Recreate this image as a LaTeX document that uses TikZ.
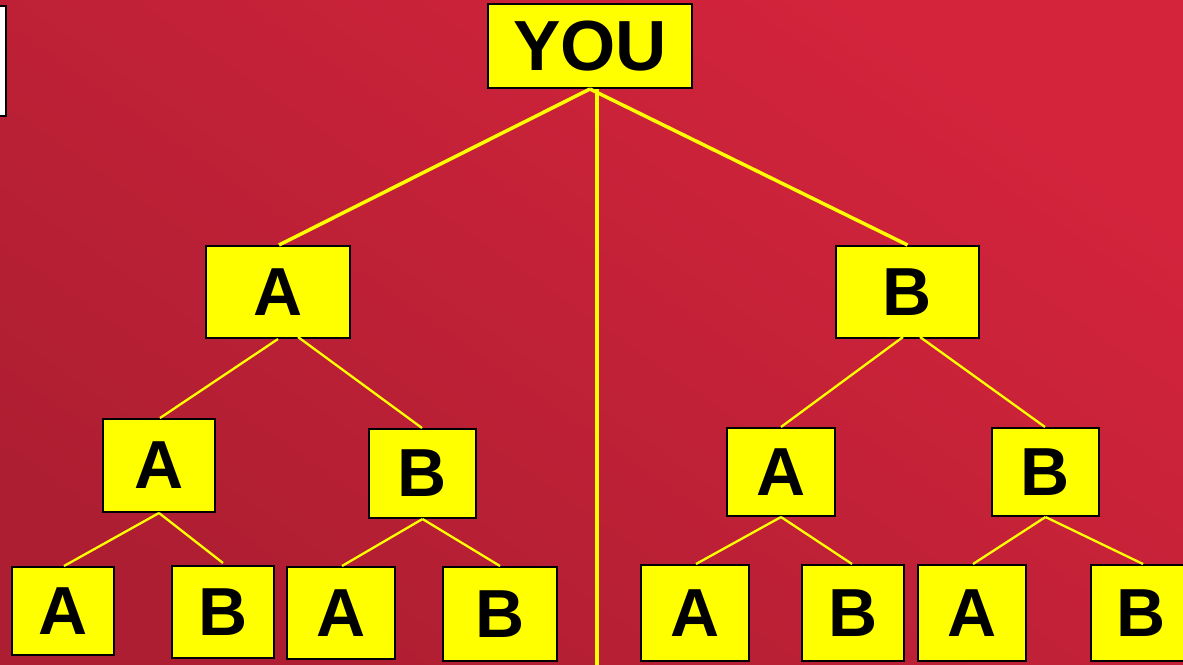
\documentclass[tikz,border=0pt]{standalone}
\usepackage{fontspec}
\setmainfont{Liberation Sans}
\definecolor{bgdark}{RGB}{174,30,50}
\definecolor{bglight}{RGB}{212,36,60}
\definecolor{ylw}{RGB}{255,255,0}
\tikzset{
  box/.style={draw=black, line width=2pt, fill=ylw, inner sep=0pt, font=\fontsize{68}{70}\selectfont\bfseries},
  topline/.style={draw=ylw, line width=3.5pt},
  subline/.style={draw=ylw, line width=2.3pt},
}
\begin{document}
\begin{tikzpicture}[x=1pt,y=-1pt]
\useasboundingbox (0,0) rectangle (1183,664);
\clip (0,0) rectangle (1183,664);
\shade[bottom color=bgdark, top color=bglight, shading angle=-35] (0,0) rectangle (1183,664);
% partial white box at left edge
\draw[line width=2.5pt, fill=white] (-100,6) rectangle (6,116);
% nodes
\node[box, minimum width=204, minimum height=84, font=\fontsize{71}{73}\selectfont\bfseries] (you) at (590,46) {YOU};
\node[box, minimum width=144, minimum height=92] (a1) at (278,292) {A};
\node[box, minimum width=143, minimum height=92] (b1) at (907.5,292) {B};
\node[box, minimum width=112, minimum height=93] (aa) at (159,465.5) {A};
\node[box, minimum width=107, minimum height=89] (ab) at (422.5,473.5) {B};
\node[box, minimum width=108, minimum height=88] (ba) at (781,472) {A};
\node[box, minimum width=107, minimum height=88] (bb) at (1045.5,472) {B};
\node[box, minimum width=102, minimum height=88] (aaa) at (63,611) {A};
\node[box, minimum width=102, minimum height=92] (aab) at (223,612) {B};
\node[box, minimum width=108, minimum height=92] (aba) at (341,613) {A};
\node[box, minimum width=114, minimum height=94] (abb) at (500,614) {B};
\node[box, minimum width=108, minimum height=96] (baa) at (695,613) {A};
\node[box, minimum width=102, minimum height=96] (bab) at (853,613) {B};
\node[box, minimum width=108, minimum height=96] (bba) at (972,613) {A};
\node[box, minimum width=100, minimum height=96] (bbb) at (1141,613) {B};
\coordinate (bottom) at (597,670);
% connectors
\draw[topline] (you.south) -- ([xshift=1pt]a1.north);
\draw[topline] (you.south) -- (b1.north);
\draw[topline] ([xshift=7pt]you.south) -- (bottom);
\draw[subline] (a1.south) -- ([xshift=1pt]aa.north);
\draw[subline] ([xshift=20pt,yshift=2pt]a1.south) -- ([xshift=-0.5pt]ab.north);
\draw[subline] (aa.south) -- ([xshift=1pt]aaa.north);
\draw[subline] (aa.south) -- ([yshift=2pt]aab.north);
\draw[subline] (ab.south) -- ([xshift=1pt]aba.north);
\draw[subline] (ab.south) -- (abb.north);
\draw[subline] ([xshift=-4.5pt,yshift=2pt]b1.south) -- (ba.north);
\draw[subline] ([xshift=12.5pt,yshift=2pt]b1.south) -- ([xshift=-0.5pt]bb.north);
\draw[subline] (ba.south) -- ([xshift=1pt]baa.north);
\draw[subline] (ba.south) -- ([xshift=-1pt]bab.north);
\draw[subline] (bb.south) -- ([xshift=1pt]bba.north);
\draw[subline] (bb.south) -- ([xshift=2pt]bbb.north);
\end{tikzpicture}
\end{document}
